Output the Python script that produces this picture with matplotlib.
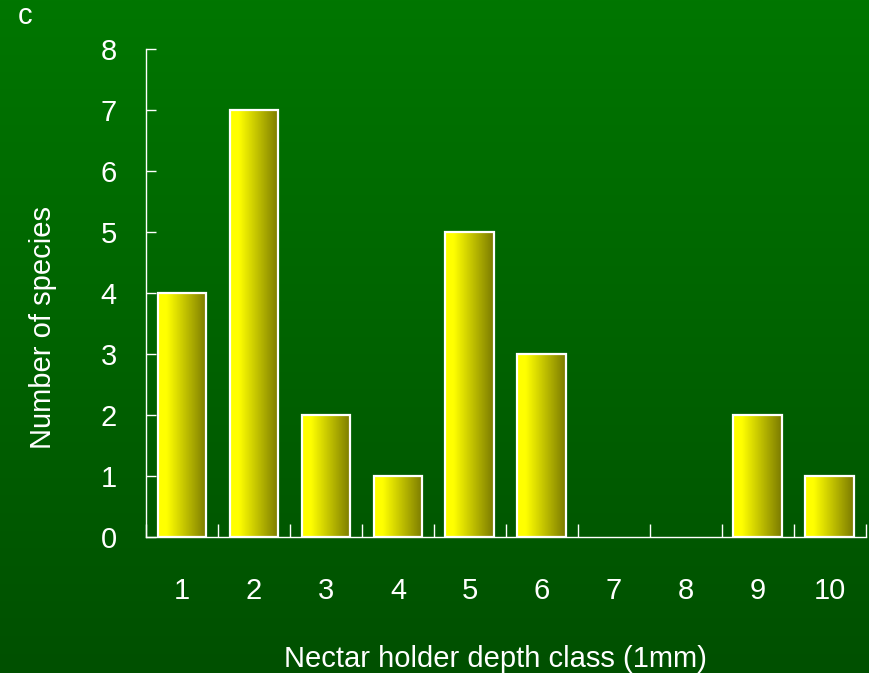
import numpy as np
import matplotlib
matplotlib.use("Agg")
import matplotlib.pyplot as plt
from matplotlib.colors import LinearSegmentedColormap

plt.rcParams['font.family'] = ['Liberation Sans', 'DejaVu Sans']

# Data
depth_classes = ['1', '2', '3', '4', '5', '6', '7', '8', '9', '10']
species_counts = [4, 7, 2, 1, 5, 3, 0, 0, 2, 1]
y_ticks = [0, 1, 2, 3, 4, 5, 6, 7, 8]

FS = 21

fig = plt.figure(figsize=(8.69, 6.73), dpi=100)

# Green vertical gradient background
bg = fig.add_axes([0, 0, 1, 1], zorder=-10)
bg_cmap = LinearSegmentedColormap.from_list('bg', ['#005000', '#007600'])
bg.imshow(np.linspace(0, 1, 256).reshape(-1, 1), aspect='auto', cmap=bg_cmap,
          origin='lower', extent=[0, 1, 0, 1])
bg.set_axis_off()

ax = fig.add_axes([0.168, 0.2028, 0.8285, 0.7244])
ax.set_facecolor('none')

x = np.arange(1, len(depth_classes) + 1)
bars = ax.bar(x, species_counts, width=0.68, facecolor='none',
              edgecolor='white', linewidth=1.6, zorder=3)

# Horizontal yellow-to-olive gradient inside each bar
bar_cmap = LinearSegmentedColormap.from_list(
    'bar', [(0.0, '#ffff00'), (0.18, '#ffff00'), (1.0, '#7a7a00')])
grad = np.linspace(0, 1, 256).reshape(1, -1)
for b in bars:
    if b.get_height() <= 0:
        b.set_visible(False)
        continue
    x0, y0 = b.get_x(), b.get_y()
    w, h = b.get_width(), b.get_height()
    im = ax.imshow(grad, aspect='auto', cmap=bar_cmap,
                   extent=[x0, x0 + w, y0, y0 + h], zorder=2)
    im.set_clip_path(b)

ax.set_xlim(0.5, len(depth_classes) + 0.5)
ax.set_ylim(0, 8)

ax.set_xticks(x)
ax.set_xticklabels(depth_classes)
ax.set_xticks(np.arange(0.5, len(depth_classes) + 1, 1), minor=True)
ax.set_yticks(y_ticks)

ax.tick_params(axis='x', which='major', length=0, pad=29,
               labelsize=FS, labelcolor='white')
ax.tick_params(axis='x', which='minor', direction='in', length=9.5,
               width=1, color='white')
ax.tick_params(axis='y', direction='in', length=7.5, width=1, color='white',
               pad=21, labelsize=FS, labelcolor='white')

for side in ['top', 'right']:
    ax.spines[side].set_visible(False)
for side in ['left', 'bottom']:
    ax.spines[side].set_color('white')
    ax.spines[side].set_linewidth(1)

ax.set_xlabel('Nectar holder depth class (1mm)', fontsize=FS, color='white')
ax.xaxis.set_label_coords(0.485, -0.222)
ax.set_ylabel('Number of species', fontsize=FS, color='white')
ax.yaxis.set_label_coords(-0.1235, 0.428)

fig.text(0.029, 1 - 24 / 673, 'c', fontsize=FS, color='white',
         ha='center', va='baseline')

fig.savefig('out.png', dpi=100, facecolor=fig.get_facecolor())
